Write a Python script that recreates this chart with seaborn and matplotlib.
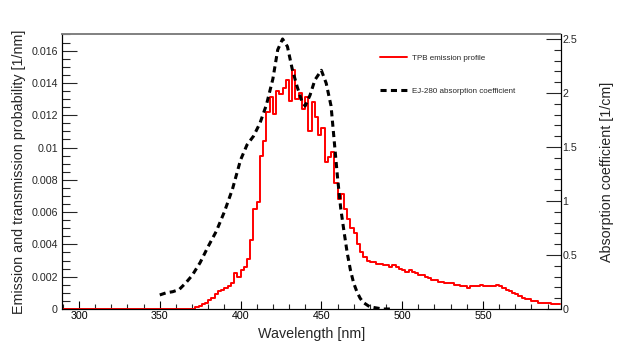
import numpy as np
import pandas as pd
import matplotlib
matplotlib.use("Agg")
import matplotlib.pyplot as plt
import seaborn as sns
from matplotlib.lines import Line2D
from matplotlib.ticker import MultipleLocator, FuncFormatter

# ---------------- data ----------------
# TPB emission histogram: 2 nm bins from 290 nm to 598 nm
bin_width = 2
emission_start = 290
emission = [0.0] * 40 + [
    0.00003, 0.0001, 0.0002, 0.0003, 0.0004, 0.00055, 0.0007, 0.0009, 0.0011, 0.0012,
    0.0013, 0.0014, 0.0016, 0.0022, 0.0020, 0.0024, 0.0026, 0.0031, 0.0043, 0.0062,
    0.0066, 0.0095, 0.0104, 0.0122, 0.0131, 0.0121, 0.0135, 0.0133, 0.0137, 0.0142,
    0.0129, 0.0148, 0.0130, 0.0134, 0.0124, 0.0131, 0.0110, 0.0128, 0.0119, 0.0108,
    0.0112, 0.0091, 0.0094, 0.0097, 0.0078, 0.0068, 0.0071, 0.0062, 0.0056, 0.0050,
    0.0047, 0.0040, 0.0035, 0.0032, 0.0030, 0.0029, 0.0029, 0.0028, 0.0028, 0.0027,
    0.0027, 0.0026, 0.0027, 0.0026, 0.0025, 0.0024, 0.0023, 0.0024, 0.0023, 0.0022,
    0.0021, 0.0021, 0.0020, 0.0019, 0.0018, 0.0018, 0.0017, 0.0017, 0.0016, 0.0016,
    0.0016, 0.0015, 0.0015, 0.0014, 0.0014, 0.0013, 0.0014, 0.0014, 0.0014, 0.0015,
    0.0014, 0.0014, 0.0014, 0.0014, 0.0015, 0.0014, 0.0013, 0.0012, 0.0011, 0.0010,
    0.0009, 0.0008, 0.0007, 0.0006, 0.0006, 0.0005, 0.0005, 0.0004, 0.0004, 0.0004,
    0.0004, 0.0003, 0.0003, 0.0003,
]

# EJ-280 absorption coefficient [1/cm]
absorption_wl = [350, 354, 358, 362, 366, 370, 375, 380, 385, 390, 395, 400, 404, 408,
                 412, 416, 420, 423, 426, 429, 432, 435, 438, 440, 443, 446, 450, 453,
                 456, 458, 460, 462, 464, 466, 468, 470, 472, 474, 476, 478, 480, 484,
                 488, 494]
absorption = [0.13, 0.15, 0.16, 0.18, 0.24, 0.31, 0.43, 0.58, 0.72, 0.90, 1.11, 1.38,
              1.52, 1.60, 1.72, 1.89, 2.13, 2.40, 2.50, 2.43, 2.22, 2.06, 1.92, 1.88,
              1.98, 2.12, 2.21, 2.09, 1.88, 1.55, 1.22, 0.93, 0.72, 0.52, 0.36, 0.24,
              0.16, 0.10, 0.06, 0.04, 0.02, 0.01, 0.0, 0.0]

x_label = "Wavelength [nm]"
y_label = "Emission and transmission probability [1/nm]"
y2_label = "Absorption coefficient [1/cm]"
legend_labels = ["TPB emission profile", "EJ-280 absorption coefficient"]

# ---------------- style ----------------
sns.set_theme(style="white")
plt.rcParams["font.family"] = ["Liberation Sans", "DejaVu Sans"]

edges = np.arange(emission_start, emission_start + bin_width * (len(emission) + 1), bin_width)
# step outline: each bin's value held from its left edge to the next edge
df_em = pd.DataFrame({"wl": edges, "val": list(emission) + [emission[-1]]})
df_abs = pd.DataFrame({"wl": absorption_wl, "val": absorption})

fig = plt.figure(figsize=(6.23, 3.43), dpi=100)
ax = fig.add_axes([62 / 623, 1 - 309 / 343, (560.5 - 62) / 623, (309 - 34) / 343])
ax2 = ax.twinx()

sns.lineplot(data=df_em, x="wl", y="val", color="#ff0000", linewidth=1.4,
             drawstyle="steps-post", ax=ax)
sns.lineplot(data=df_abs, x="wl", y="val", color="black", linewidth=2.2, ax=ax2)
ax2.lines[0].set_dashes((2.0, 1.4))

ax.set_xlim(289.5, 598)
ax.set_ylim(0, 0.01703)
ax2.set_ylim(0, 2.546)

fmt = FuncFormatter(lambda v, p: "%g" % round(v, 6))
ax.xaxis.set_major_locator(MultipleLocator(50))
ax.xaxis.set_minor_locator(MultipleLocator(10))
ax.yaxis.set_major_locator(MultipleLocator(0.002))
ax.yaxis.set_minor_locator(MultipleLocator(0.0005))
ax.yaxis.set_major_formatter(fmt)
ax2.yaxis.set_major_locator(MultipleLocator(0.5))
ax2.yaxis.set_minor_locator(MultipleLocator(0.1))
ax2.yaxis.set_major_formatter(fmt)

ax.tick_params(axis="x", which="major", direction="in", length=5.8, width=0.8,
               labelsize=7.7, pad=1.5, colors="black", bottom=True, top=False)
ax.tick_params(axis="x", which="minor", direction="in", length=3.3, width=0.8,
               bottom=True, top=False)
ax.tick_params(axis="y", which="major", direction="in", length=10.6, width=0.8,
               labelsize=7.7, pad=3.0, left=True, right=False)
ax.tick_params(axis="y", which="minor", direction="in", length=5.8, width=0.8,
               left=True, right=False)
ax2.tick_params(axis="y", which="major", direction="in", length=10.6, width=0.8,
                labelsize=7.7, pad=1.5, right=True, left=False)
ax2.tick_params(axis="y", which="minor", direction="in", length=5.3, width=0.8,
                right=True, left=False)

for a in (ax, ax2):
    for side, sp in a.spines.items():
        sp.set_linewidth(0.8)
        sp.set_color("black")
        sp.set_visible(True)
    a.spines["top"].set_color("#808080")
    a.spines["top"].set_linewidth(1.2)

ax.set_xlabel(x_label, fontsize=10.3, labelpad=4)
ax.set_ylabel(y_label, fontsize=10.3, labelpad=4)
ax2.set_ylabel(y2_label, fontsize=10.3, labelpad=16.5)

handles = [Line2D([], [], color="#ff0000", linewidth=1.4),
           Line2D([], [], color="black", linewidth=2.2, dashes=(2.0, 1.4))]
ax2.legend(handles, legend_labels, loc="upper left", bbox_to_anchor=(0.638, 0.925),
           frameon=False, fontsize=5.8, handlelength=3.3, handletextpad=0.7,
           labelspacing=3.1, borderpad=0, borderaxespad=0)

fig.savefig("out.png", dpi=100)
